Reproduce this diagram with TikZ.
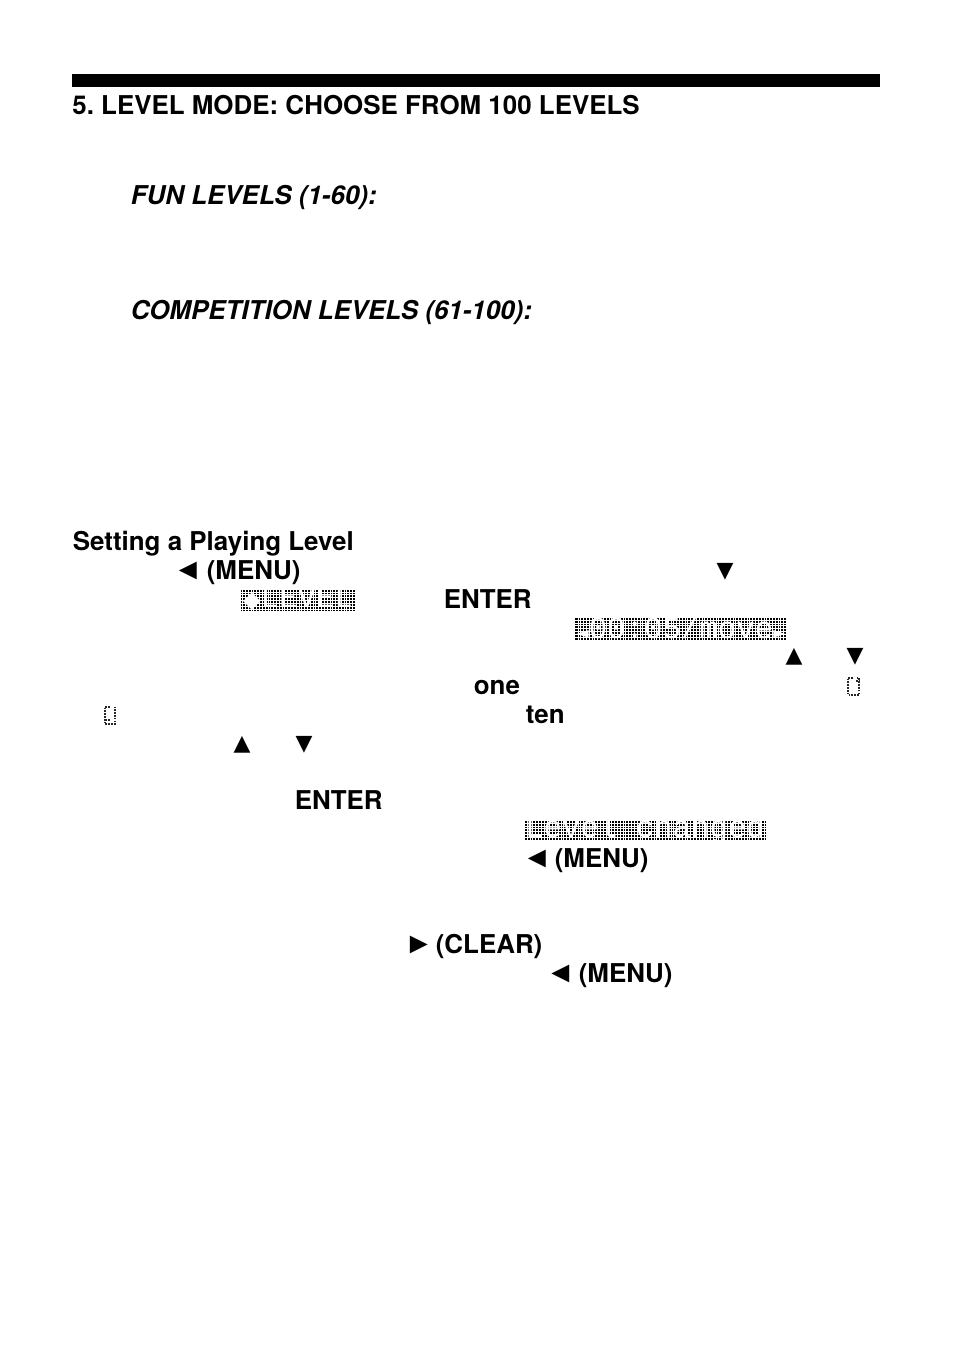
\documentclass[tikz,border=0pt]{standalone}
\usepackage{fontspec}
\usepackage{xcolor}
\setmainfont{TeX Gyre Heros}
\setmonofont{Liberation Mono}
\newfontfamily\trifont{DejaVu Sans}
\newfontfamily\sidefont{Liberation Sans}
\frenchspacing
\usetikzlibrary{positioning}
\tikzset{
    lbl/.style={anchor=base west,inner sep=0pt,font=\fontsize{14.75}{17}\selectfont\bfseries},
    lblit/.style={lbl,font=\fontsize{14.75}{17}\selectfont\bfseries\itshape},
    tri/.style={anchor=base,inner sep=0pt,font=\fontsize{12.5}{15}\trifont},
    sidetri/.style={anchor=base,inner sep=0pt,font=\fontsize{17}{18}\sidefont\bfseries},
    lcdtxt/.style={anchor=center,inner sep=0pt,text=white,font=\fontsize{17.5}{18}\ttfamily},
    lcdgrid/.style={step=1.604pt,white,line width=0.25pt},
    cursor/.style={black!85,line width=1.5pt,dash pattern=on 1pt off 0.6pt},
}
\begin{document}
\begin{tikzpicture}[x=0.02cm,y=-0.02cm]
    \useasboundingbox (0,0) rectangle (954,1345);
    \fill[black] (72,74) rectangle (880,87);

    \node[lbl] (head) at (72,114) {5. LEVEL MODE: CHOOSE FROM 100 LEVELS};
    \node[lblit] (fun) at (130.5,204) {FUN LEVELS (1-60):};
    \node[lblit] (comp) at (130.5,319) {COMPETITION LEVELS (61-100):};
    \node[lbl] (setting) at (72.5,550) {Setting a Playing Level};

    \node[sidetri] (menualeft) at (188,579) {◄};
    \node[lbl] (menua) at (206.5,579) {(MENU)};
    \node[tri] (downa) at (725,577) {▼};
    \node[lbl] (entera) at (443.5,608) {ENTER};
    \node[tri] (upb) at (794,662) {▲};
    \node[tri] (downb) at (855,662) {▼};
    \node[lbl] (one) at (473.5,694) {one};
    \node[lbl] (ten) at (525.5,723) {ten};
    \node[tri] (upc) at (242,750) {▲};
    \node[tri] (downc) at (304,750) {▼};
    \node[lbl] (enterb) at (294.5,809) {ENTER};
    \node[sidetri] (menubleft) at (537,867) {◄};
    \node[lbl] (menub) at (554.5,867) {(MENU)};
    \node[sidetri] (clearright) at (419,953) {►};
    \node[lbl] (clear) at (435.5,953) {(CLEAR)};
    \node[sidetri] (menucleft) at (560.5,982) {◄};
    \node[lbl] (menuc) at (578.5,982) {(MENU)};

    % display strips
    \fill[black] (241,589) rectangle (355,611);
    \draw[lcdgrid] (241,589) grid (355,611);
    \node[lcdtxt] (lcdlevel) at (298,599) {{\trifont\fontsize{13}{13}\selectfont ◆}LEVEL};

    \fill[black] (575,618) rectangle (787,640);
    \draw[lcdgrid] (575,618) grid (787,640);
    \node[lcdtxt] (lcdmove) at (681,628) {{\trifont\fontsize{9}{9}\selectfont ◄}00:05/move{\trifont\fontsize{9}{9}\selectfont ►}};

    \fill[black] (524,820) rectangle (766,841);
    \draw[lcdgrid] (524,820) grid (766,841);
    \node[lcdtxt] (lcdchanged) at (645,829.5) {Level changed};

    % small cursors
    \draw[cursor] (853,678) -- (848,678) -- (848,695) -- (859,695) -- (859,678) -- (856,678);
    \draw[cursor] (856,681) -- (859,681);
    \draw[cursor] (110,707) -- (105,707) -- (105,724) -- (115,724) -- (115,707);
    \draw[cursor] (105,720) -- (110,720);
\end{tikzpicture}
\end{document}
